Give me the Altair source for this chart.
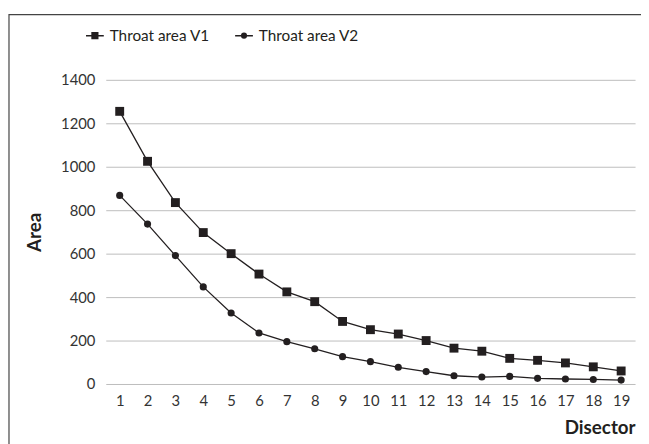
import altair as alt
import pandas as pd

disector = list(range(1, 20))
v1 = [1255, 1025, 835, 697, 600, 506, 424, 379, 288, 250, 230, 200, 165, 151, 118, 109, 97, 79, 60]
v2 = [868, 736, 591, 447, 327, 235, 195, 162, 126, 103, 77, 57, 38, 32, 35, 26, 23, 21, 18]
series_names = ["Throat area V1", "Throat area V2"]

rows = []
for d, a, b in zip(disector, v1, v2):
    rows.append({"Disector": d, "Area": a, "series": series_names[0]})
    rows.append({"Disector": d, "Area": b, "series": series_names[1]})
df = pd.DataFrame(rows)

FONT = "Lato"
INK = "#231f20"

x = alt.X("Disector:O", sort=disector,
          scale=alt.Scale(paddingOuter=0.5, paddingInner=0),
          axis=alt.Axis(title="Disector", labelAngle=0, ticks=False, domain=False,
                        labelPadding=10, labelFontSize=15, labelColor="#333",
                        titleFontSize=19, titleFontWeight="bold", titleColor=INK,
                        titleAnchor="end", titlePadding=10, labelFont=FONT, titleFont=FONT))
y = alt.Y("Area:Q", scale=alt.Scale(domain=[0, 1400], nice=False),
          axis=alt.Axis(title="Area", values=[0, 200, 400, 600, 800, 1000, 1200, 1400],
                        format="d", ticks=False, domain=False, grid=True, gridColor="#bdbdbd",
                        labelPadding=11, labelFontSize=15, labelColor="#333",
                        titleFontSize=19, titleFontWeight="bold", titleColor=INK,
                        titlePadding=16, labelFont=FONT, titleFont=FONT))

base = alt.Chart(df)

lines = base.mark_line(color=INK, strokeWidth=1.3).encode(x=x, y=y, detail="series:N")

sq = base.transform_filter(alt.datum.series == series_names[0]).mark_point(
    shape="square", filled=True, color=INK, opacity=1, size=81).encode(x=x, y=y)
ci = base.transform_filter(alt.datum.series == series_names[1]).mark_point(
    shape="circle", filled=True, color=INK, opacity=1, size=52).encode(x=x, y=y)


def sq_ring(r):
    return f"M{-r},{-r}L{r},{-r}L{r},{r}L{-r},{r}Z"


def ci_ring(r):
    return f"M{-r},0A{r},{r} 0 1,0 {r},0A{r},{r} 0 1,0 {-r},0Z"


sq_path = "M-1,0L1,0" + "".join(sq_ring(r) for r in [0.32, 0.22, 0.12, 0.04])
ci_path = "M-1,0L1,0" + "".join(ci_ring(r) for r in [0.26, 0.17, 0.08])

leg = base.mark_point(size=0, filled=False, color=INK, strokeWidth=1.5).encode(
    x=x, y=y,
    shape=alt.Shape("series:N",
                    scale=alt.Scale(domain=series_names, range=[sq_path, ci_path]),
                    legend=alt.Legend(title=None, orient="none", legendX=-21, legendY=-55,
                                      direction="horizontal", symbolSize=324,
                                      symbolFillColor=INK, symbolStrokeColor=INK,
                                      symbolStrokeWidth=1.5, symbolOpacity=1,
                                      labelFontSize=15.5, labelFont=FONT, labelColor=INK,
                                      columnPadding=22, labelOffset=5, labelLimit=300)))

border = alt.Chart(pd.DataFrame({"k": [0]})).mark_rect(
    fill=None, stroke="#444", strokeWidth=1.2, clip=False).encode(
    x=alt.value(-98), x2=alt.value(560), y=alt.value(-66), y2=alt.value(420))

chart = alt.layer(border, lines, leg, sq, ci).properties(
    width=536, height=308,
    autosize=alt.AutoSizeParams(type="none"),
    padding={"left": 99, "top": 70, "right": 6, "bottom": 58},
    background="white",
).configure_view(stroke=None)

chart.save("out.html", embed_options={"renderer": "svg", "actions": False})
